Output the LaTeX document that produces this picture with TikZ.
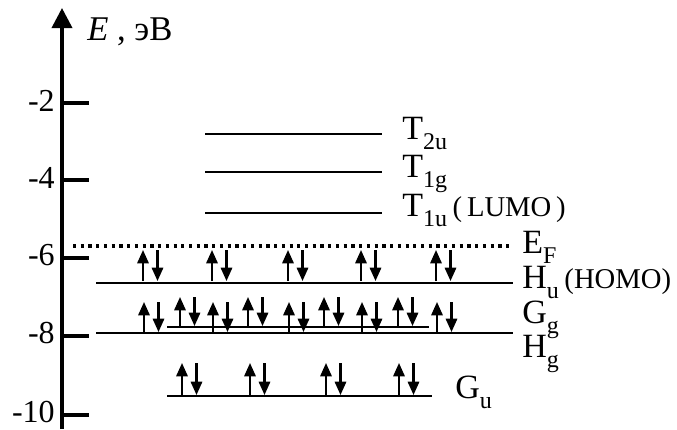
\documentclass[tikz,border=0pt]{standalone}
\usepackage{fontspec}
\setmainfont{Liberation Serif}
\usetikzlibrary{arrows.meta}
% subscript in text mode
\newcommand\lsub[1]{\raisebox{-0.3em}{\fontsize{18pt}{19pt}\selectfont #1}}
% one pair of opposite spins above a level: x, top y, bottom y
\newcommand\spinpair[3]{%
  \draw[spin] (#1,#3) -- (#1,#2);
  \draw[spin] (#1+14.5,#2) -- (#1+14.5,#3);}
\begin{document}
\begin{tikzpicture}[x=0.75pt,y=-0.75pt,
  level/.style={line width=2.2pt},
  tick/.style={line width=2.5pt},
  spin/.style={line width=1.6pt,-{Triangle[width=8.5pt,length=10pt]}},
  lbl/.style={anchor=base west,inner sep=0pt,font=\fontsize{25.5pt}{28pt}\selectfont},
  num/.style={anchor=east,inner sep=0pt,font=\fontsize{24pt}{26pt}\selectfont}]
\useasboundingbox (0,0) rectangle (677,429);

% energy axis
\draw[line width=2.7pt,-{Triangle[width=15pt,length=15pt]}] (62,429) -- (62,8);
\node[lbl,font=\fontsize{26pt}{28pt}\selectfont] (axlab) at (87,40) {\textit{E} , эВ};

% ticks and their values
\foreach \v/\y in {-2/103,-4/180,-6/258,-8/336,-10/415}{
  \draw[tick] (62,\y) -- (89,\y);
  \node[num] (t\v) at (55,\y-2.5) {\v};
}

% empty levels
\draw[level] (205,134) -- (382,134);
\draw[level] (205,172) -- (382,172);
\draw[level] (205,213) -- (382,213);
\node[lbl] (t2u) at (402,139) {T\lsub{2u}};
\node[lbl] (t1g) at (402,177) {T\lsub{1g}};
\node[lbl] (t1u) at (402,216) {T\lsub{1u}\,{\fontsize{21.5pt}{24pt}\selectfont(\,LUMO\,)}};

% Fermi level
\draw[line width=2.3pt,dash pattern=on 2.4pt off 3.4pt] (73,246) -- (510,246);
\node[lbl] (ef) at (522,253) {E\lsub{F}};

% filled levels
\draw[level] (96,283) -- (513,283);
\draw[level] (167,327) -- (429,327);
\draw[level] (96,333) -- (513,333);
\draw[level] (167,396) -- (432,396);
\node[lbl] (hu) at (522,288) {H\lsub{u}\,{\fontsize{21.5pt}{24pt}\selectfont (HOMO)}};
\node[lbl] (gg) at (522,323) {G\lsub{g}};
\node[lbl] (hg) at (522,357) {H\lsub{g}};
\node[lbl] (gu) at (455,398) {G\lsub{u}};

% electrons
\foreach \x in {143,212,288,361,436}{\spinpair{\x}{250}{281}}
\foreach \x in {144,213,289,362,437}{\spinpair{\x}{302}{332}}
\foreach \x in {180,248,324,398}{\spinpair{\x}{297}{326}}
\foreach \x in {182,250,326,399}{\spinpair{\x}{363}{395}}
\end{tikzpicture}
\end{document}
